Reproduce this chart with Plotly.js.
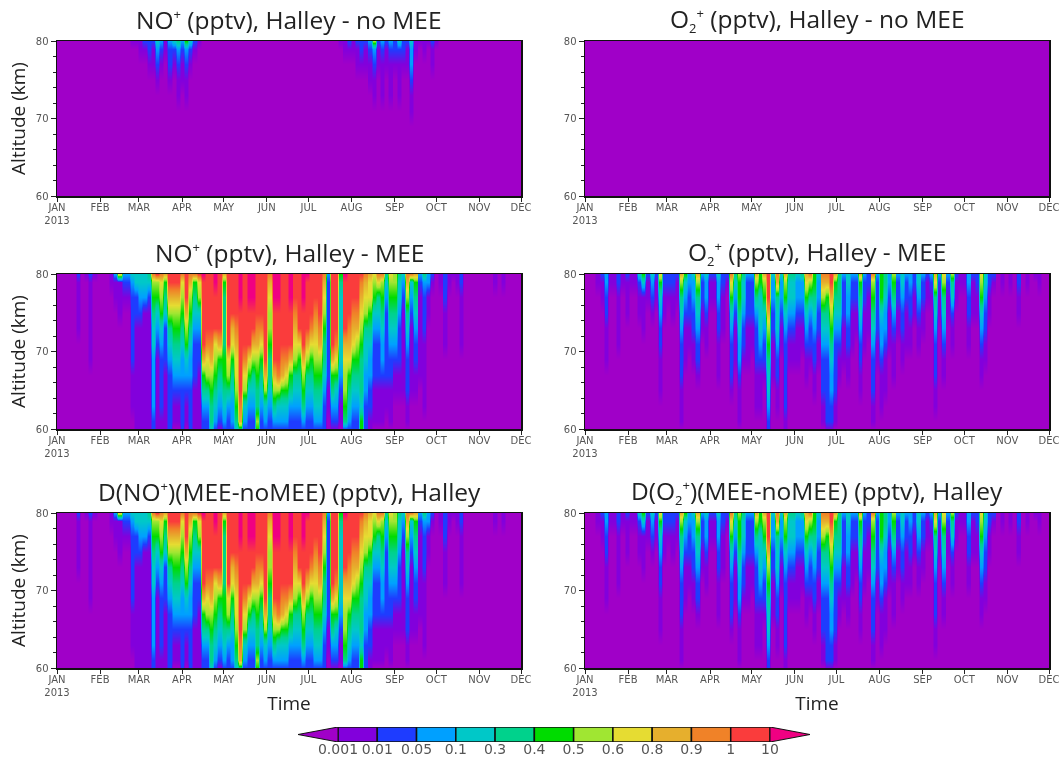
<!DOCTYPE html>
<html>
<head>
<meta charset="utf-8">
<script src="https://cdn.plot.ly/plotly-3.0.1.min.js"></script>
<style>html,body{margin:0;padding:0;background:#fff}#chart{width:1063px;height:760px;filter:blur(0.6px)}</style>
</head>
<body>
<div id="chart"></div>
<script>
// Legend
const breakLabels = ["0.001","0.01","0.05","0.1","0.3","0.4","0.5","0.6","0.8","0.9","1","10"];
const bandColors = ["#A000C8","#8200DC","#1E3CFF","#00A0FF","#00C8C8","#00D28C","#00DC00","#A0E632","#E6DC32","#E6AF2D","#F08228","#FA3C3C","#F00082"];
// Axes
const monthDays = [0,31,59,90,120,151,181,212,243,273,304,334];
const monthNames = ["JAN<br>2013","FEB","MAR","APR","MAY","JUN","JUL","AUG","SEP","OCT","NOV","DEC"];
const altitudes = [80,79,77,75,73,71,69,67,65,63,61,60];
const sampleDays = [0,3,6,9,12,15,18,21,24,27,30,33,36,39,42,45,48,51,54,57,60,63,66,69,72,75,78,81,84,87,90,93,96,99,102,105,108,111,114,117,120,123,126,129,132,135,138,141,144,147,150,153,156,159,162,165,168,171,174,177,180,183,186,189,192,195,198,201,204,207,210,213,216,219,222,225,228,231,234,237,240,243,246,249,252,255,258,261,264,267,270,273,276,279,282,285,288,291,294,297,300,303,306,309,312,315,318,321,324,327,330,333];
// Each string = one time sample, a profile from 80 km down to 60 km; each character = colour band (base 13).
const Q = "000000000000";
const noPlusNoMee = [Q,Q,Q,Q,Q,Q,Q,Q,Q,Q,Q,Q,Q,Q,Q,Q,Q,Q,
"100000000000","100000000000","110000000000","210000000000","221000000000","211000000000","432100000000","321000000000","110000000000","322100000000","421000000000","532110000000","321100000000","632110000000","421000000000","210000000000","100000000000",
Q,Q,Q,Q,Q,Q,Q,Q,Q,Q,Q,Q,Q,Q,Q,Q,Q,Q,Q,Q,Q,Q,Q,Q,Q,Q,Q,Q,Q,Q,Q,Q,Q,
"100000000000","110000000000","210000000000","110000000000","211000000000","221000000000","211000000000","321100000000","732110000000","211000000000","321110000000","211000000000","321110000000","221000000000","421110000000","221000000000","211000000000","433211000000","110000000000","100000000000","110000000000","100000000000","211000000000","100000000000",
Q,Q,Q,Q,Q,Q,Q,Q,Q,Q,Q,Q,Q,Q,Q,Q,Q,Q,Q,Q];
const o2PlusNoMee = sampleDays.map(() => Q);
const noPlusMee = [Q,Q,Q,Q,Q,"211110000000",Q,"100000000000","211111100000","100000000000",Q,Q,Q,"110000000000","311000000000","811100000000","321000000000","321000000000",
"432222211100","442211111111","443211111111","443111111111","542111111111","a76544333322","b76432111111","a87643222211","965422211111","bb9754322222","bb9765432110","bb9765432110","a87654332222","bbb976432110","a97654332222","a65432221111","b87432211111",
"cbbbbb965322","bbbbba875322","bbbbba976554","ccbbb8765432","bbbbb9654321","965555665432","bbbbbb875322","bbbb98654332","bbbba9887654","cccbbbbbba95","bbbbbba87432","cccbbb864322","cccbb9754322","bbbba9765576","bbbba8654322","bbbbbbb97432","a98776554322","cccbbbb97532","cccbbbba7432","bbbbbba96432","bbbbbba86432","cccbbb965322","bbba98754322","bbbbb8654322","cccbbb976532","cbbbb9754322","bbbba8654322","bbba98765432","bbbba9765432","a98765543222","322222221100","bbbbbb965321","bbbbba864321","654444432110","cbbbb9877652","bbbba9865432","bbba98654322","bbba97654322","ba9876555466","a98754433222","988654332211","876432221110","a85432221110","a76543321110","543222221100","876543221110","776543211000","544322211000","432111111000","a97543222110","a43211111000","965432211000","321111110000","532221111100","331100000000","210000000000",
Q,"110000000000","222111000000","110000000000","100000000000","110000000000","221111000000",Q,Q,Q,Q,Q,Q,Q,"110000000000",Q,"110000000000",Q,Q,Q,Q];
const o2PlusMee = [Q,Q,Q,"110000000000","211000000000","332211100000","110000000000","110000000000","221111000000","110000000000","211100000000","110000000000","110000000000","421100000000","641110000000","211000000000","432100000000","211000000000","864322111000","221100000000",
"221000000000","221100000000","211000000000","975432221110","643211100000","332211000000","433221100000","975432210000","322110000000","433211000000","211000000000","211000000000","433221110000","221110000000","210000000000","a86432221000","543211100000","766543321110","544322100000","322211100000",
"322211000000","975322211100","664443211100","976432210000","bbb976544322","433221110000","a95443221100","433211000000","976432222211","544321100000","544321100000","433211100000","533211000000","986432110000","a75322100000","665432211000","433221100000","a97543222110","a96543222221","bb9765433221",
"965432222110","555432110000","322211100000","443322110000","322111000000","322110000000","965432211000","322111000000","221110000000","a76543222110","322221100000","666433211100","554332111000","332111000000","765321110000","322110000000","443221100000","322111000000","332211000000","221100000000",
"443211000000","322110000000","211000000000","321000000000","985432221100","321100000000","875432110000","321100000000","754211000000","211000000000","110000000000","110000000000","332211000000","211100000000","221100000000","876432110000","443221100000","221100000000","210000000000",Q,
"110000000000",Q,"110000000000",Q,"221100000000",Q,"110000000000",Q,"100000000000","110000000000",Q,Q];
// The difference panels are visually the MEE runs (noMEE values are negligible beside them).
const noPlusDiff = noPlusMee;
const o2PlusDiff = o2PlusMee;

const W = 1063, H = 760;
const SUP = '<sup><span style="font-size:13px">+</span></sup>';
const SUB2 = '<sub><span style="font-size:13px">2</span></sub>';
const panels = [
  {data: noPlusNoMee, title: "NO" + SUP + " (pptv), Halley - no MEE", x0: 57, y0: 41, ty: 19},
  {data: o2PlusNoMee, title: "O" + SUB2 + SUP + " (pptv), Halley - no MEE", x0: 585, y0: 41, ty: 19},
  {data: noPlusMee, title: "NO" + SUP + " (pptv), Halley - MEE", x0: 57, y0: 274, ty: 253},
  {data: o2PlusMee, title: "O" + SUB2 + SUP + " (pptv), Halley - MEE", x0: 585, y0: 274, ty: 253},
  {data: noPlusDiff, title: "D(NO" + SUP + ")(MEE-noMEE) (pptv), Halley", x0: 57, y0: 513, ty: 491},
  {data: o2PlusDiff, title: "D(O" + SUB2 + SUP + ")(MEE-noMEE) (pptv), Halley", x0: 585, y0: 513, ty: 491}
];
const PW = 464, PH = 155;
const FONT = "'Open Sans', 'Noto Sans', sans-serif";
const TICKFONT = "'DejaVu Sans', sans-serif";
const scale = bandColors.map((c, i) => [i / 12, c]);
const yAsc = altitudes.slice().reverse();
// Each sample is held across part of its own 3-day slot, so a one-sample streak stays narrow.
const heldDays = sampleDays.flatMap(d => [d - 0.8, d + 0.8]);

const traces = [];
const layout = {
  width: W, height: H,
  margin: {l: 0, r: 0, t: 0, b: 0},
  paper_bgcolor: "#fff", plot_bgcolor: "#fff",
  showlegend: false,
  font: {family: FONT, color: "#222"},
  annotations: []
};

panels.forEach((p, i) => {
  const n = i + 1, sfx = n === 1 ? "" : n;
  const z = yAsc.map(a => {
    const r = altitudes.indexOf(a);
    return p.data.flatMap(col => { const v = parseInt(col[r], 13); return [v, v]; });
  });
  traces.push({
    type: "heatmap", x: heldDays, y: yAsc, z: z,
    xaxis: "x" + sfx, yaxis: "y" + sfx,
    zmin: 0, zmax: 12, colorscale: scale, showscale: false,
    zsmooth: "best", hoverinfo: "skip"
  });
  const isBottom = i >= 4, isLeft = i % 2 === 0;
  layout["xaxis" + sfx] = {
    domain: [p.x0 / W, (p.x0 + PW) / W], anchor: "y" + sfx,
    range: [0, 334], tickmode: "array", tickvals: monthDays, ticktext: monthNames,
    tickangle: 0,
    ticks: "outside", ticklen: 4, tickwidth: 1, tickcolor: "#222",
    ticklabelstandoff: -3,
    tickfont: {size: 10, color: "#555", family: TICKFONT},
    showgrid: false, zeroline: false,
    showline: true, linecolor: "#111", linewidth: 1.5, mirror: true,
    title: isBottom ? {text: "Time", font: {size: 19, color: "#222", family: FONT}, standoff: 0} : undefined
  };
  layout["yaxis" + sfx] = {
    domain: [(H - p.y0 - PH) / H, (H - p.y0) / H], anchor: "x" + sfx,
    range: [60, 80], tickmode: "array", tickvals: [60, 70, 80],
    ticks: "outside", ticklen: 5, tickwidth: 1, tickcolor: "#222",
    minor: {ticks: "outside", ticklen: 3, tickwidth: 1, tickcolor: "#222", tickmode: "array", tickvals: [62,64,66,68,72,74,76,78], showgrid: false},
    tickfont: {size: 10, color: "#555", family: TICKFONT},
    showgrid: false, zeroline: false,
    showline: true, linecolor: "#111", linewidth: 1.5, mirror: true,
    title: isLeft ? {text: "Altitude (km)", font: {size: 19, color: "#222", family: FONT}, standoff: 5} : undefined
  };
  layout.annotations.push({
    xref: "paper", yref: "paper", x: (p.x0 + PW / 2) / W, y: (H - p.ty) / H,
    xanchor: "center", yanchor: "middle", showarrow: false,
    text: p.title, font: {size: 24.5, color: "#222", family: FONT}
  });
});

// Legend strip: a bar per closed band, a filled triangle at each open end.
const tip = 40 / 39.27;
const nClosed = breakLabels.length - 1;
const barX = [], barCol = [];
for (let i = 0; i < nClosed; i++) { barX.push(i + 0.5); barCol.push(bandColors[i + 1]); }
traces.push({
  type: "bar", x: barX, y: barX.map(() => 1), width: 1, xaxis: "x7", yaxis: "y7",
  marker: {color: barCol, line: {color: "#111", width: 1.5}}, hoverinfo: "skip"
});
traces.push({type: "scatter", mode: "lines", x: [0, -tip, 0, 0], y: [0, .5, 1, 0], fill: "toself", fillcolor: bandColors[0], line: {color: "#111", width: 1}, xaxis: "x7", yaxis: "y7", hoverinfo: "skip"});
traces.push({type: "scatter", mode: "lines", x: [nClosed, nClosed + tip, nClosed, nClosed], y: [0, .5, 1, 0], fill: "toself", fillcolor: bandColors[12], line: {color: "#111", width: 1}, xaxis: "x7", yaxis: "y7", hoverinfo: "skip"});
layout.xaxis7 = {
  domain: [298 / W, 810 / W], anchor: "y7", range: [-tip, nClosed + tip],
  tickmode: "array", tickvals: breakLabels.map((_, i) => i), ticktext: breakLabels,
  ticks: "", tickangle: 0, tickfont: {size: 14, color: "#555", family: TICKFONT},
  ticklabelstandoff: -3,
  showgrid: false, zeroline: false, showline: false, fixedrange: true
};
layout.yaxis7 = {
  domain: [(H - 742) / H, (H - 727) / H], anchor: "x7", range: [0, 1],
  showticklabels: false, ticks: "", showgrid: false, zeroline: false, showline: false, fixedrange: true
};

Plotly.newPlot("chart", traces, layout, {displayModeBar: false, staticPlot: true});
</script>
</body>
</html>
